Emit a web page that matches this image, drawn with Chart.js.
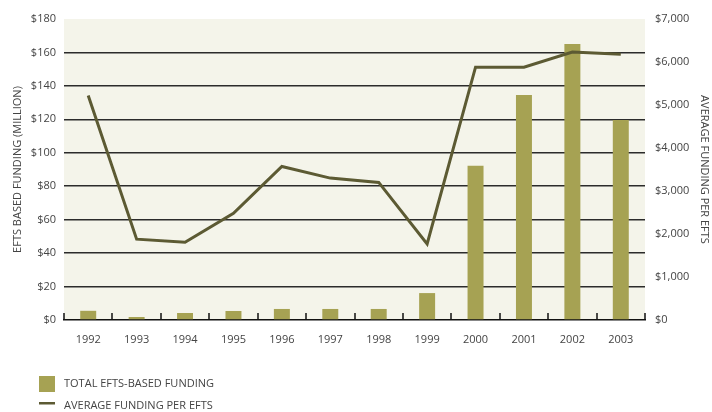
<!DOCTYPE html>
<html>
<head>
<meta charset="utf-8">
<script src="https://cdn.jsdelivr.net/npm/chart.js@4"></script>
<style>
  html, body { margin: 0; padding: 0; background: #fff; }
</style>
</head>
<body>
<canvas id="funding_chart_canvas" width="712" height="412"></canvas>
<script>
const years = ["1992","1993","1994","1995","1996","1997","1998","1999","2000","2001","2002","2003"];
// total EFTS-based funding, $ million
const totalFunding = [5.5, 1.8, 4.2, 5.4, 6.6, 6.6, 6.6, 16.1, 92.3, 134.6, 165.0, 119.6];
// average funding per EFTS, $
const avgPerEfts = [5220, 1880, 1810, 2480, 3570, 3300, 3200, 1770, 5880, 5880, 6230, 6180];
const leftTicks = [0, 20, 40, 60, 80, 100, 120, 140, 160, 180];
const rightTicks = [0, 1000, 2000, 3000, 4000, 5000, 6000, 7000];

const barColor = "#a6a253";
const lineColor = "#5c5a33";
const gridColor = "#2b2b2b";
const textColor = "#444444";

Chart.defaults.font.family = "'Open Sans', sans-serif";
Chart.defaults.font.size = 11;
Chart.defaults.color = textColor;

// cream fill behind the plot
const plotBackground = {
  id: "plotBackground",
  beforeDraw(chart) {
    const { ctx, chartArea: a } = chart;
    ctx.save();
    ctx.fillStyle = "#f4f4ea";
    ctx.fillRect(a.left, a.top, a.right - a.left, a.bottom - a.top);
    ctx.restore();
  }
};

// short upward tick marks between the year categories
const categoryTicks = {
  id: "categoryTicks",
  afterDraw(chart) {
    const { ctx, chartArea: a } = chart;
    const x = chart.scales.x;
    const step = x.getPixelForValue(1) - x.getPixelForValue(0);
    ctx.save();
    ctx.strokeStyle = "#111";
    ctx.lineWidth = 1.5;
    ctx.beginPath();
    for (let i = 0; i <= years.length; i++) {
      const px = Math.round(x.getPixelForValue(i) - step / 2);
      ctx.moveTo(px, a.bottom);
      ctx.lineTo(px, a.bottom - 7);
    }
    ctx.stroke();
    ctx.restore();
  }
};

// legend stacked in the bottom left corner
const cornerLegend = {
  id: "cornerLegend",
  afterDraw(chart) {
    const ctx = chart.ctx;
    const sets = chart.data.datasets;
    ctx.save();
    ctx.font = "11px 'Open Sans', sans-serif";
    ctx.fillStyle = textColor;
    ctx.textBaseline = "middle";
    const bar = sets.find(d => d.type === "bar");
    const line = sets.find(d => d.type === "line");
    ctx.fillStyle = bar.backgroundColor;
    ctx.fillRect(39, 376, 16, 16);
    ctx.fillStyle = textColor;
    ctx.fillText(bar.label, 64, 384);
    ctx.fillStyle = line.borderColor;
    ctx.fillRect(39, 402, 16, 2.5);
    ctx.fillStyle = textColor;
    ctx.fillText(line.label, 64, 406);
    ctx.restore();
  }
};

const chart = new Chart(document.getElementById("funding_chart_canvas").getContext("2d"), {
  data: {
    labels: years,
    datasets: [{
      type: "line",
      label: "AVERAGE FUNDING PER EFTS",
      data: avgPerEfts,
      yAxisID: "y1",
      borderColor: lineColor,
      borderWidth: 3,
      pointRadius: 0,
      tension: 0,
      order: 1
    }, {
      type: "bar",
      label: "TOTAL EFTS-BASED FUNDING",
      data: totalFunding,
      yAxisID: "y",
      backgroundColor: barColor,
      barPercentage: 0.66,
      categoryPercentage: 0.5,
      order: 2
    }]
  },
  options: {
    responsive: false,
    animation: false,
    devicePixelRatio: 1,
    layout: { padding: { top: 19, left: 0, right: 0, bottom: 0 } },
    plugins: { legend: { display: false }, tooltip: { enabled: false } },
    scales: {
      x: {
        afterFit: s => { s.height = 92; },
        grid: { display: true, drawOnChartArea: false, drawTicks: false, color: "transparent" },
        border: { display: true, color: "#111", width: 1.5 },
        ticks: { padding: 13, color: textColor }
      },
      y: {
        position: "left",
        min: 0,
        max: 180,
        afterFit: s => { s.width = 64; },
        afterBuildTicks: s => { s.ticks = leftTicks.map(v => ({ value: v })); },
        grid: {
          drawTicks: false,
          lineWidth: 1.5,
          color: c => (c.tick && (c.tick.value === 0 || c.tick.value === 180)) ? "transparent" : gridColor
        },
        border: { display: false },
        ticks: { padding: 8, color: textColor, callback: v => "$" + v },
        title: { display: true, text: "EFTS BASED FUNDING (MILLION)", color: textColor, padding: { top: 11, bottom: 0 } }
      },
      y1: {
        position: "right",
        min: 0,
        max: 7000,
        afterFit: s => { s.width = 67; },
        afterBuildTicks: s => { s.ticks = rightTicks.map(v => ({ value: v })); },
        grid: { display: false, drawTicks: false },
        border: { display: false },
        ticks: { padding: 10, color: textColor, callback: v => "$" + v.toLocaleString("en-US") },
        title: { display: true, text: "AVERAGE FUNDING PER EFTS", color: textColor, padding: { top: 1, bottom: 0 } }
      }
    }
  },
  plugins: [plotBackground, categoryTicks, cornerLegend]
});
</script>
</body>
</html>
